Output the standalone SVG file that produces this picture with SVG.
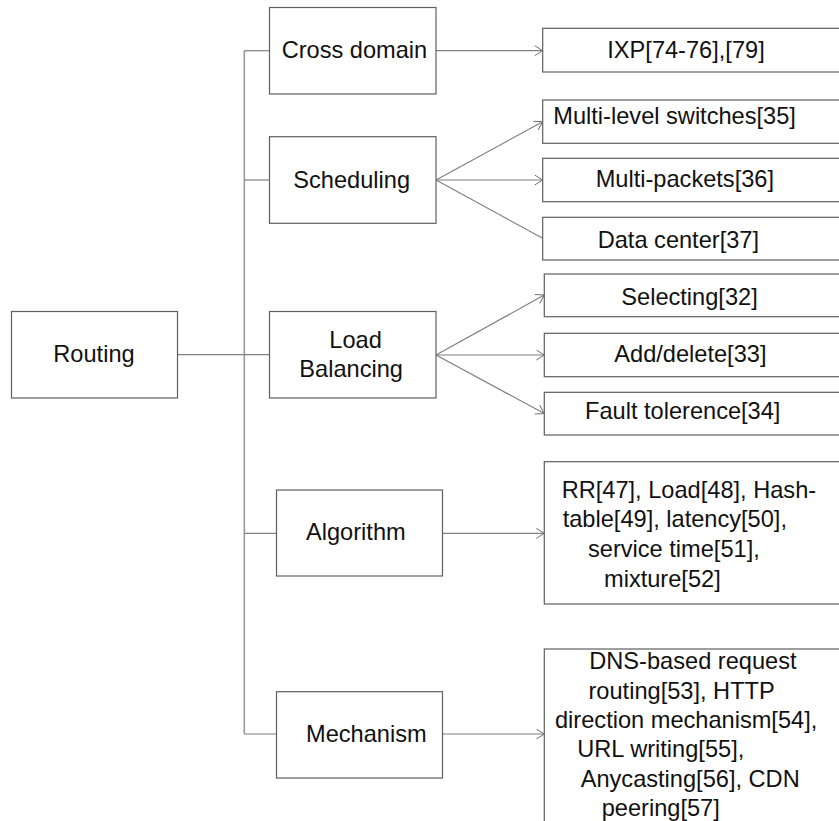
<svg xmlns="http://www.w3.org/2000/svg" width="839" height="821" viewBox="0 0 839 821">
<defs>
<style>
.box{fill:#ffffff;stroke:#5f5f5f;stroke-width:1.2}
.t{font-family:"Liberation Sans",Arial,sans-serif;font-size:23.6px;fill:#111111}
.c{fill:none;stroke:#808080;stroke-width:1.2}
.tr{fill:none;stroke:#999999;stroke-width:1.6}
</style>
<marker id="ah" markerUnits="userSpaceOnUse" markerWidth="12" markerHeight="12" refX="9" refY="5.5" orient="auto">
<path d="M1,0.5 L9,5.5 L1,10.5" fill="none" stroke="#707070" stroke-width="1"/>
</marker>
</defs>
<rect width="839" height="821" fill="#ffffff"/>
<g id="connectors">
<line class="tr" x1="244.3" y1="50.7" x2="244.3" y2="734"/>
<line class="c" x1="178" y1="354.7" x2="269.5" y2="354.7"/>
<line class="c" x1="244.3" y1="50.7" x2="269.5" y2="50.7"/>
<line class="c" x1="244.3" y1="180" x2="269.5" y2="180"/>
<line class="c" x1="244.3" y1="533.3" x2="276.5" y2="533.3"/>
<line class="c" x1="244.3" y1="734" x2="276.5" y2="734"/>
<line class="c" x1="436" y1="50.7" x2="542.7" y2="50.7" marker-end="url(#ah)"/>
<line class="c" x1="436" y1="180" x2="542.7" y2="121.7" marker-end="url(#ah)"/>
<line class="c" x1="436" y1="180" x2="542.7" y2="180" marker-end="url(#ah)"/>
<line class="c" x1="436" y1="180" x2="542.7" y2="238.3"/>
<line class="c" x1="436" y1="355" x2="544.3" y2="295" marker-end="url(#ah)"/>
<line class="c" x1="436" y1="355" x2="544.3" y2="355" marker-end="url(#ah)"/>
<line class="c" x1="436" y1="355" x2="544.3" y2="413.5" marker-end="url(#ah)"/>
<line class="c" x1="442.5" y1="533.3" x2="544.3" y2="533.3" marker-end="url(#ah)"/>
<line class="c" x1="442.5" y1="734" x2="544.3" y2="734" marker-end="url(#ah)"/>
</g>
<g id="routing"><rect class="box" x="11.5" y="311.5" width="166" height="86.5"/><text class="t" x="53.3" y="361.7">Routing</text></g>
<g id="cross-domain"><rect class="box" x="269.5" y="7.5" width="166.5" height="86.5"/><text class="t" x="281.7" y="58.3">Cross domain</text></g>
<g id="scheduling"><rect class="box" x="269.5" y="136.7" width="166.5" height="86.6"/><text class="t" x="293.3" y="188.3">Scheduling</text></g>
<g id="load-balancing"><rect class="box" x="269.5" y="311.5" width="166.5" height="86.5"/><text class="t" x="329.3" y="348.3">Load</text><text class="t" x="299.3" y="376.7">Balancing</text></g>
<g id="algorithm"><rect class="box" x="276.5" y="490" width="166" height="86"/><text class="t" x="306" y="540">Algorithm</text></g>
<g id="mechanism"><rect class="box" x="276.5" y="691.7" width="166" height="86.3"/><text class="t" x="306" y="741.7">Mechanism</text></g>
<g id="ixp"><rect class="box" x="542.7" y="28.3" width="320" height="43.7"/><text class="t" x="607.3" y="58.3">IXP[74-76],[79]</text></g>
<g id="multi-level"><rect class="box" x="542.7" y="100" width="320" height="43.3"/><text class="t" x="553.3" y="124">Multi-level switches[35]</text></g>
<g id="multi-packets"><rect class="box" x="542.7" y="158.3" width="320" height="43.4"/><text class="t" x="595.7" y="187.3">Multi-packets[36]</text></g>
<g id="data-center"><rect class="box" x="542.7" y="217.3" width="320" height="42.7"/><text class="t" x="597.7" y="248.3">Data center[37]</text></g>
<g id="selecting"><rect class="box" x="544.3" y="274" width="320" height="42.7"/><text class="t" x="621.3" y="305">Selecting[32]</text></g>
<g id="add-delete"><rect class="box" x="544.3" y="333.3" width="320" height="43.4"/><text class="t" x="614.3" y="361.7">Add/delete[33]</text></g>
<g id="fault"><rect class="box" x="544.3" y="392.3" width="320" height="42.7"/><text class="t" x="585" y="419.3">Fault tolerence[34]</text></g>
<g id="algorithms-list"><rect class="box" x="544.3" y="461.7" width="320" height="142.3"/>
<text class="t" x="561.7" y="497.7">RR[47], Load[48], Hash-</text>
<text class="t" x="562.7" y="527.3">table[49], latency[50],</text>
<text class="t" x="588" y="556.9">service time[51],</text>
<text class="t" x="604" y="586.5">mixture[52]</text>
</g>
<g id="mechanisms-list"><rect class="box" x="544.3" y="649" width="320" height="200"/>
<text class="t" x="589.3" y="669.3">DNS-based request</text>
<text class="t" x="588.5" y="698.6">routing[53], HTTP</text>
<text class="t" x="555" y="728">direction mechanism[54],</text>
<text class="t" x="577.3" y="757.4">URL writing[55],</text>
<text class="t" x="580.7" y="786.8">Anycasting[56], CDN</text>
<text class="t" x="601.7" y="816.2">peering[57]</text>
</g>
</svg>
